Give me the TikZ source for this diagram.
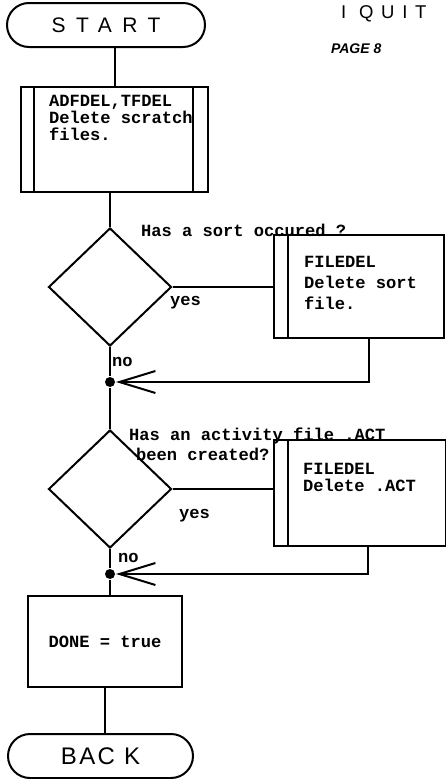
\documentclass[tikz,border=0pt]{standalone}
\usepackage{fontspec}
\usetikzlibrary{arrows.meta, positioning, shapes.geometric}
\newfontfamily\flowmono{Liberation Mono}
\newfontfamily\termfont{Liberation Sans}

\begin{document}
\begin{tikzpicture}[
        x=1pt, y=-1pt,
        line width=2pt,
        terminal/.style={draw, rectangle, rounded corners=22pt, minimum height=44pt, inner sep=0pt},
        process/.style={draw, rectangle, inner sep=0pt},
        leftbar/.style={path picture={
            \draw ([xshift=14pt]path picture bounding box.north west) -- ([xshift=14pt]path picture bounding box.south west);}},
        bothbars/.style={path picture={
            \draw ([xshift=13pt]path picture bounding box.north west) -- ([xshift=13pt]path picture bounding box.south west);
            \draw ([xshift=-15pt]path picture bounding box.north east) -- ([xshift=-15pt]path picture bounding box.south east);}},
        decision/.style={draw, diamond, minimum width=123pt, minimum height=118pt, inner sep=0pt},
        dot/.style={circle, fill, inner sep=0pt, minimum size=10pt},
        flow/.style={-{Straight Barb[length=36pt, width=22pt]}},
        code/.style={font=\flowmono\bfseries\fontsize{17.1pt}{17pt}\selectfont, align=left, inner sep=0pt}
    ]
        \useasboundingbox (0,0) rectangle (446,779);

        % main column
        \node[terminal, minimum width=198pt, font=\termfont\fontsize{21pt}{21pt}\selectfont\addfontfeature{LetterSpace=50}] (start) at (106,25) {START};
        \node[process, bothbars, minimum width=187pt, minimum height=105pt] (adf) at (114.5,139.5) {};
        \node[code, anchor=north west] (adftext) at (48,94) {ADFDEL,TFDEL\\Delete scratch\\files.};
        \node[decision] (d1) at (110,287) {};
        \node[dot] (j1) at (110,382) {};
        \node[decision] (d2) at (110,489) {};
        \node[dot] (j2) at (110,574) {};
        \node[process, code, minimum width=154pt, minimum height=91pt] (done) at (105,641.5) {DONE = true};
        \node[terminal, minimum width=185pt, font=\termfont\fontsize{24pt}{24pt}\selectfont\addfontfeature{LetterSpace=10}] (back) at (100.5,756) {BAC K};

        % side boxes
        \node[process, leftbar, minimum width=170pt, minimum height=103pt] (fd1) at (359,286.5) {};
        \node[code, anchor=north west] (fd1text) at (303,255) {FILEDEL\\[4pt]Delete sort\\[4pt]file.};
        \node[process, leftbar, minimum width=172pt, minimum height=106pt] (fd2) at (359.5,493) {};
        \node[code, anchor=north west] (fd2text) at (302,462) {FILEDEL\\Delete .ACT};

        % page heading
        \node[anchor=base west, inner sep=0pt, font=\termfont\fontsize{18.5pt}{18.5pt}\selectfont\addfontfeature{LetterSpace=42}] (quit) at (340,18) {I QUIT};
        \node[anchor=base west, inner sep=0pt, font=\termfont\bfseries\itshape\fontsize{14pt}{14pt}\selectfont] (page) at (330,53) {PAGE 8};

        % questions and branch labels
        \node[code, anchor=base west] (q1) at (140,236) {Has a sort occured ?};
        \node[code, anchor=west] (yes1) at (169,303) {yes};
        \node[code, anchor=west] (no1) at (111,362) {no};
        \node[code, anchor=north west] (q2) at (128,427) {Has an activity file .ACT\\[3pt]\hspace{7pt}been created?};
        \node[code, anchor=west] (yes2) at (178,516) {yes};
        \node[code, anchor=west] (no2) at (117,558) {no};

        % connectors
        \draw (adf.north |- start.south) -- (adf.north);
        \draw (d1.north |- adf.south) -- (d1.north);
        \draw (d1.east) -- (fd1.west |- d1.east);
        \draw (d1.south) -- (j1) -- (d2.north);
        \draw[flow] ([xshift=10pt]fd1.south) |- (j1);
        \draw (d2.east) -- (fd2.west |- d2.east);
        \draw (d2.south) -- (j2) -- (j2 |- done.north);
        \draw[flow] ([xshift=8pt]fd2.south) |- (j2);
        \draw (done.south) -- (done.south |- back.north);
    \end{tikzpicture}
\end{document}
